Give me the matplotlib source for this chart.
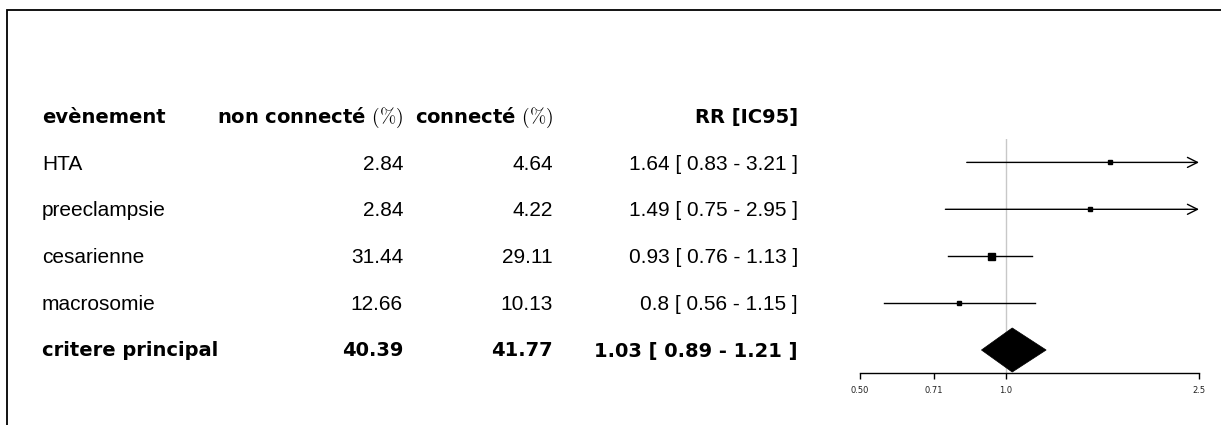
import numpy as np
import matplotlib
matplotlib.use("Agg")
import matplotlib.pyplot as plt
from matplotlib.patches import Polygon, Rectangle

plt.rcParams['font.family'] = ['DejaVu Sans']
plt.rcParams['mathtext.fontset'] = 'cm'

# data
events = ['HTA', 'preeclampsie', 'cesarienne', 'macrosomie', 'critere principal']
pct_non_connecte = ['2.84', '2.84', '31.44', '12.66', '40.39']
pct_connecte = ['4.64', '4.22', '29.11', '10.13', '41.77']
rr = [1.64, 1.49, 0.93, 0.8, 1.03]
ci_low = [0.83, 0.75, 0.76, 0.56, 0.89]
ci_high = [3.21, 2.95, 1.13, 1.15, 1.21]
is_summary = [False, False, False, False, True]
box_px = [4, 4, 7, 5, 0]  # box sizes (weights)
headers = ['evènement', r'non connecté $(\%)$', r'connecté $(\%)$', 'RR [IC95]']
xticks = [0.5, 0.71, 1.0, 2.5]
xticklabels = ['0.50', '0.71', '1.0', '2.5']
xlim = (0.5, 2.5)

W, H = 1221, 425
fig = plt.figure(figsize=(W / 100, H / 100), dpi=100)

# frame (left + top edges visible)
fig.add_artist(Rectangle((7 / W, -0.1), 1.2, 1 - 10 / H + 0.1, transform=fig.transFigure,
                         fill=False, edgecolor='black', lw=1.3))

base0, base_step = 123, 46.7  # pixel baseline of header row and spacing


def ypix(i):
    return 1 - (base0 + base_step * i) / H


col_x = [42 / W, 403 / W, 553 / W, 798 / W]
bold_font = dict(family='DejaVu Sans', fontweight='bold', fontsize=14)
reg_font = dict(family='Liberation Sans', fontsize=15)

# header
fig.text(col_x[0], ypix(0), headers[0], ha='left', va='baseline', **bold_font)
for c in range(1, 4):
    fig.text(col_x[c], ypix(0), headers[c], ha='right', va='baseline', **bold_font)

for i, ev in enumerate(events):
    y = ypix(i + 1)
    f = bold_font if is_summary[i] else reg_font
    rr_txt = f"{rr[i]:g} [ {ci_low[i]:g} - {ci_high[i]:g} ]"
    fig.text(col_x[0], y, ev, ha='left', va='baseline', **f)
    fig.text(col_x[1], y, pct_non_connecte[i], ha='right', va='baseline', **f)
    fig.text(col_x[2], y, pct_connecte[i], ha='right', va='baseline', **f)
    fig.text(col_x[3], y, rr_txt, ha='right', va='baseline', **f)

# forest panel
row_c0, row_step = 115.5, 46.9
y_top_px = row_c0 + row_step * 0.5
y_bot_px = row_c0 + row_step * (len(events) + 0.5)
ax = fig.add_axes([860 / W, 1 - y_bot_px / H, (1199 - 860) / W, (y_bot_px - y_top_px) / H])
ax.set_xscale('log')
ax.set_xlim(*xlim)
ax.set_ylim(len(events) + 0.5, 0.5)
ax.axvline(1.0, color='#c8c8c8', lw=1, zorder=0)

for i in range(len(events)):
    y = i + 1
    if is_summary[i]:
        h = 0.47
        ax.add_patch(Polygon([(ci_low[i], y), (rr[i], y - h), (ci_high[i], y), (rr[i], y + h)],
                             closed=True, facecolor='black', edgecolor='black', lw=0.5))
        continue
    if ci_high[i] > xlim[1]:
        ax.annotate('', xy=(xlim[1], y), xytext=(ci_low[i], y),
                    arrowprops=dict(arrowstyle='->', lw=1, color='black',
                                    shrinkA=0, shrinkB=0, mutation_scale=18))
    else:
        ax.plot([ci_low[i], ci_high[i]], [y, y], color='black', lw=1)
    ax.plot(rr[i], y, marker='s', color='black', markersize=box_px[i] * 0.72, linestyle='none')

for side in ['top', 'right', 'left']:
    ax.spines[side].set_visible(False)
ax.spines['bottom'].set_linewidth(1)
ax.set_yticks([])
ax.set_xticks(xticks)
ax.set_xticklabels(xticklabels)
ax.xaxis.set_minor_locator(matplotlib.ticker.NullLocator())
ax.tick_params(axis='x', direction='out', length=4.3, width=1, labelsize=6,
               pad=5, labelcolor='#222222')
ax.patch.set_alpha(0)

fig.savefig('out.png', dpi=100)
